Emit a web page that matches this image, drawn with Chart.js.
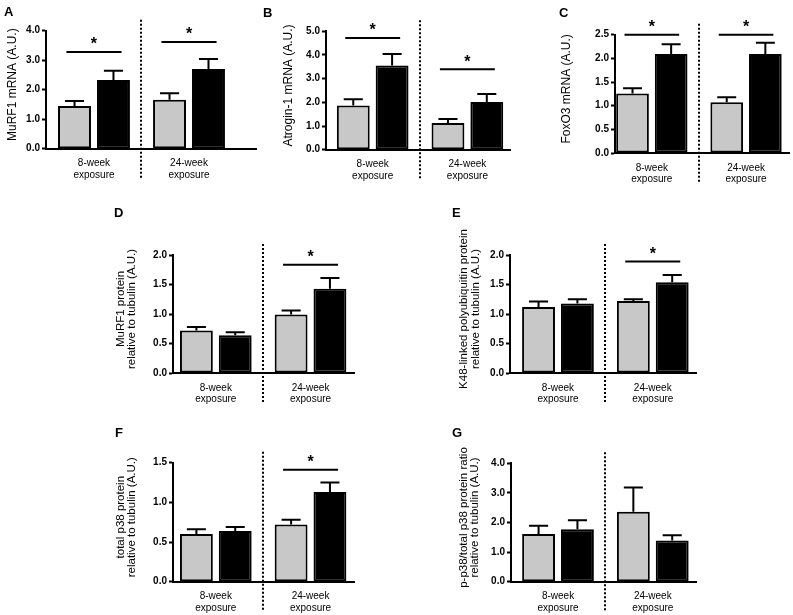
<!DOCTYPE html>
<html><head><meta charset="utf-8">
<script src="https://cdn.jsdelivr.net/npm/chart.js@4.4.1/dist/chart.umd.min.js"></script>
<style>
html,body{margin:0;padding:0;background:#fff;}
#wrap{position:relative;width:793px;height:615px;overflow:hidden;background:#fff;}
#wrap canvas{position:absolute;left:0;top:0;}
</style></head><body><div id="wrap"></div>
<script>
// ---------------- DATA ----------------
const groupLabels = [["8-week", "exposure"], ["24-week", "exposure"]];
const panelLetters = ["A", "B", "C", "D", "E", "F", "G"];
const yTitles = [
  ["MuRF1 mRNA (A.U.)"],
  ["Atrogin-1 mRNA (A.U.)"],
  ["FoxO3 mRNA (A.U.)"],
  ["MuRF1 protein", "relative to tubulin (A.U.)"],
  ["K48-linked polyubiquitin protein", "relative to tubulin (A.U.)"],
  ["total p38 protein", "relative to tubulin (A.U.)"],
  ["p-p38/total p38 protein ratio", "relative to tubulin (A.U.)"]
];
const yMax  = [4.0, 5.0, 2.5, 2.0, 2.0, 1.5, 4.0];
const yStep = [1.0, 1.0, 0.5, 0.5, 0.5, 0.5, 1.0];
// gray bars (control) and black bars (exposed): means and SEM, per panel [8-week, 24-week]
const controlMean = [[1.45, 1.66], [1.87, 1.13], [1.26, 1.07], [0.72, 0.99], [1.12, 1.22], [0.60, 0.72], [1.61, 2.36]];
const controlSem  = [[0.17, 0.22], [0.26, 0.17], [0.11, 0.11], [0.06, 0.07], [0.09, 0.03], [0.06, 0.06], [0.28, 0.82]];
const exposedMean = [[2.33, 2.70], [3.56, 2.01], [2.09, 2.09], [0.64, 1.43], [1.18, 1.54], [0.64, 1.13], [1.77, 1.39]];
const exposedSem  = [[0.31, 0.34], [0.48, 0.34], [0.21, 0.24], [0.05, 0.18], [0.07, 0.12], [0.05, 0.12], [0.31, 0.18]];
// significance bar level (y units) per group, null = not significant
const sigLevel = [[3.28, 3.62], [4.72, 3.40], [2.50, 2.50], [null, 1.835], [null, 1.89], [null, 1.41], [null, null]];

// ---------------- LAYOUT (page pixels) ----------------
const W = 793, H = 615;
const YW = 40, XH = 34; // fixed axis box sizes
const layout = [
  {l: 46,  r: 256, t: 30.7,  b: 148.7, xmin: 0.495, xmax: 2.705, lx: 4,   ly: 16,  tx: 12.5},
  {l: 326, r: 510, t: 31.3,  b: 149.7, xmin: 0.507, xmax: 2.450, lx: 263, ly: 17,  tx: 289},
  {l: 615, r: 789, t: 34.7,  b: 153.0, xmin: 0.609, xmax: 2.456, lx: 559, ly: 17,  tx: 567},
  {l: 173, r: 354, t: 255,   b: 373,   xmin: 0.548, xmax: 2.459, lx: 114, ly: 217, tx: 126.5},
  {l: 510, r: 696, t: 255,   b: 373,   xmin: 0.494, xmax: 2.456, lx: 452, ly: 217, tx: 470},
  {l: 173, r: 354, t: 462.7, b: 581.7, xmin: 0.548, xmax: 2.459, lx: 115, ly: 437, tx: 126.5},
  {l: 511, r: 696, t: 463.3, b: 581.7, xmin: 0.504, xmax: 2.456, lx: 452, ly: 437, tx: 469.5}
];
const FONT = "'Liberation Sans', Arial, Helvetica, sans-serif";
Chart.defaults.font.family = FONT;
Chart.defaults.color = '#000';

const extras = {
  id: 'extras',
  afterDatasetsDraw(chart, args, opts) {
    const p = opts.panel;
    const ctx = chart.ctx, xs = chart.scales.x, ys = chart.scales.y, ca = chart.chartArea;
    ctx.save();
    ctx.strokeStyle = '#000'; ctx.fillStyle = '#000'; ctx.lineWidth = 2; ctx.lineCap = 'butt';
    // upper error bars (SEM)
    const sems = [controlSem[p], exposedSem[p]];
    chart.data.datasets.forEach((ds, di) => {
      const meta = chart.getDatasetMeta(di);
      meta.data.forEach((bar, i) => {
        const v = ds.data[i].y, e = sems[di][i];
        const y0 = ys.getPixelForValue(v), y1 = ys.getPixelForValue(v + e);
        const half = bar.width * 0.29;
        ctx.beginPath();
        ctx.moveTo(bar.x, y0); ctx.lineTo(bar.x, y1);
        ctx.moveTo(bar.x - half, y1); ctx.lineTo(bar.x + half, y1);
        ctx.stroke();
      });
    });
    // dotted divider between exposure durations
    const dx = Math.round(xs.getPixelForValue(1.5));
    ctx.save();
    ctx.setLineDash([2, 2]);
    ctx.beginPath(); ctx.moveTo(dx, ca.top - 11); ctx.lineTo(dx, ca.bottom + 30); ctx.stroke();
    ctx.restore();
    // significance bars and asterisks
    sigLevel[p].forEach((lv, g) => {
      if (lv === null) return;
      const y = ys.getPixelForValue(lv);
      const x0 = xs.getPixelForValue(g + 1 - 0.29), x1 = xs.getPixelForValue(g + 1 + 0.29);
      ctx.beginPath(); ctx.moveTo(x0, y); ctx.lineTo(x1, y); ctx.stroke();
      ctx.font = 'bold 16px ' + FONT;
      ctx.textAlign = 'center'; ctx.textBaseline = 'alphabetic';
      ctx.fillText('*', xs.getPixelForValue(g + 1), y - 2.5);
    });
    ctx.restore();
  },
  afterDraw(chart, args, opts) {
    const p = opts.panel, L = layout[p];
    const ctx = chart.ctx, ca = chart.chartArea;
    ctx.save();
    ctx.fillStyle = '#000';
    // panel letter
    ctx.font = 'bold 13px ' + FONT;
    ctx.textAlign = 'left'; ctx.textBaseline = 'alphabetic';
    ctx.fillText(panelLetters[p], L.lx, L.ly);
    // rotated y-axis title
    const lines = yTitles[p];
    const fs = lines.length > 1 ? 11.5 : 12;
    const lh = 11.5;
    ctx.translate(L.tx, (ca.top + ca.bottom) / 2 - 5);
    ctx.rotate(-Math.PI / 2);
    ctx.font = fs + 'px ' + FONT;
    ctx.textAlign = 'center'; ctx.textBaseline = 'middle';
    lines.forEach((s, i) => {
      ctx.fillText(s, 0, (i - (lines.length - 1) / 2) * lh);
    });
    ctx.restore();
  }
};

const wrap = document.getElementById('wrap');
layout.forEach((L, p) => {
  const cv = document.createElement('canvas');
  cv.width = W; cv.height = H;
  cv.style.width = W + 'px'; cv.style.height = H + 'px';
  wrap.appendChild(cv);
  new Chart(cv.getContext('2d'), {
    type: 'bar',
    data: {
      datasets: [
        {label: 'control', data: controlMean[p].map((v, i) => ({x: i + 1, y: v})),
         backgroundColor: '#c8c8c8', borderColor: '#000', borderWidth: 2, borderSkipped: false},
        {label: 'exposed', data: exposedMean[p].map((v, i) => ({x: i + 1, y: v})),
         backgroundColor: '#000', borderColor: '#000', borderWidth: 2, borderSkipped: false}
      ]
    },
    options: {
      responsive: false, animation: false, events: [],
      devicePixelRatio: 1,
      layout: {padding: {left: L.l - YW, right: W - L.r, top: L.t, bottom: H - L.b - XH}},
      categoryPercentage: 0.82, barPercentage: 0.846,
      plugins: {legend: {display: false}, tooltip: {enabled: false}, extras: {panel: p}},
      scales: {
        x: {
          type: 'linear', min: L.xmin, max: L.xmax, bounds: 'data', offset: false,
          afterBuildTicks: s => { s.ticks = [{value: 1}, {value: 2}]; },
          afterFit: s => { s.height = XH; s.paddingLeft = 0; s.paddingRight = 0; },
          grid: {display: false, offset: false},
          border: {display: true, color: '#000', width: 2},
          ticks: {autoSkip: false, maxRotation: 0, minRotation: 0, padding: 1,
                  font: {size: 10, lineHeight: 1.15},
                  callback: v => groupLabels[Math.round(v) - 1]}
        },
        y: {
          min: 0, max: yMax[p],
          afterFit: s => { s.width = YW; },
          grid: {display: true, drawOnChartArea: false, drawTicks: true, tickLength: 4,
                 tickWidth: 2, tickColor: '#000'},
          border: {display: true, color: '#000', width: 2},
          ticks: {stepSize: yStep[p], padding: 2, font: {size: 10, weight: 'bold'},
                  callback: v => Number(v).toFixed(1)}
        }
      }
    },
    plugins: [extras]
  });
});
</script></body></html>
